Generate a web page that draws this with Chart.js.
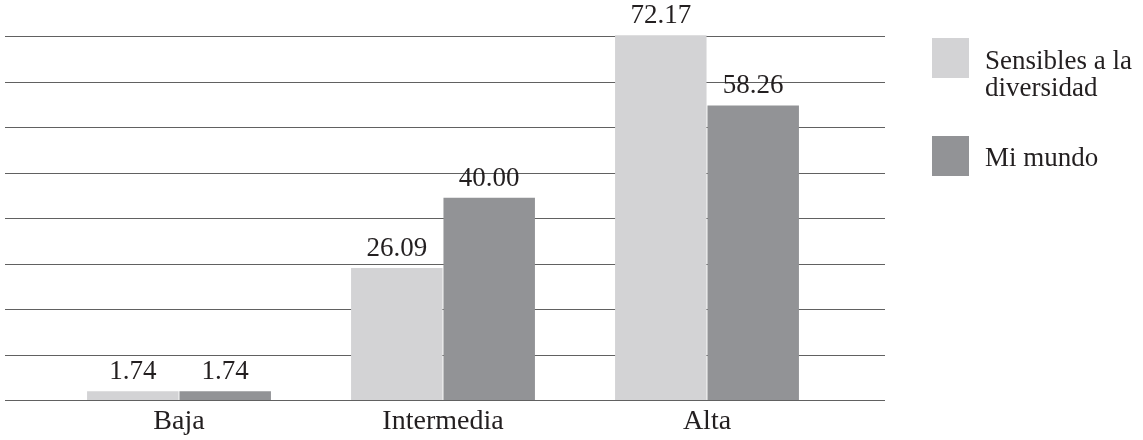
<!DOCTYPE html>
<html>
<head>
<meta charset="utf-8">
<script src="https://cdn.jsdelivr.net/npm/chart.js@4"></script>
<style>
  body { margin: 0; background: #fff; }
  #wrap { position: relative; width: 1143px; height: 440px; }
  #legend { position: absolute; left: 932px; top: 0; font-family: "Liberation Serif", serif; font-size: 27px; line-height: 27px; color: #231f20; }
  .item { position: absolute; left: 0; white-space: nowrap; }
  .box { position: absolute; left: 0; width: 37px; height: 40px; }
  .txt { position: absolute; left: 53px; }
</style>
</head>
<body>
<div id="wrap">
  <canvas id="bar_chart" width="1143" height="440"></canvas>
  <div id="legend"></div>
</div>
<script>
var categories = ["Baja", "Intermedia", "Alta"];
var sensibles = [1.74, 26.09, 72.17];
var miMundo = [1.74, 40.00, 58.26];
var seriesNames = [["Sensibles a la", "diversidad"], ["Mi mundo"]];
var gridValues = [0, 9, 18, 27, 36, 45, 54, 63, 72];

var colors = ['#d3d3d5', '#929396'];

// horizontal rules run wider than the bars
var gridPlugin = {
    id: 'gridLines',
    beforeDatasetsDraw: function (chart) {
        var ctx = chart.ctx, y = chart.scales.y;
        ctx.save();
        ctx.strokeStyle = '#616161';
        ctx.lineWidth = 1;
        gridValues.forEach(function (v) {
            var py = Math.round(y.getPixelForValue(v)) + 0.5;
            ctx.beginPath();
            ctx.moveTo(5, py);
            ctx.lineTo(885, py);
            ctx.stroke();
        });
        ctx.restore();
    }
};

var valuePlugin = {
    id: 'values',
    afterDatasetsDraw: function (chart) {
        var ctx = chart.ctx;
        ctx.save();
        ctx.font = '27px "Liberation Serif"';
        ctx.fillStyle = '#231f20';
        ctx.textAlign = 'center';
        ctx.textBaseline = 'alphabetic';
        chart.data.datasets.forEach(function (ds, i) {
            chart.getDatasetMeta(i).data.forEach(function (bar, j) {
                ctx.fillText(ds.data[j].toFixed(2), bar.x, bar.y - 12);
            });
        });
        ctx.restore();
    }
};

new Chart(document.getElementById("bar_chart").getContext("2d"), {
    type: 'bar',
    data: {
        labels: categories,
        datasets: [{
            label: seriesNames[0].join(' '),
            data: sensibles,
            backgroundColor: colors[0]
        }, {
            label: seriesNames[1].join(' '),
            data: miMundo,
            backgroundColor: colors[1]
        }]
    },
    options: {
        responsive: false,
        animation: false,
        categoryPercentage: 0.70,
        barPercentage: 0.99,
        layout: { padding: { left: 47, right: 304, top: 35, bottom: 0 } },
        plugins: { legend: { display: false }, tooltip: { enabled: false } },
        scales: {
            y: { display: false, min: 0, max: 72.2 },
            x: {
                grid: { display: false, drawTicks: false },
                border: { display: false },
                ticks: { color: '#231f20', font: { family: 'Liberation Serif', size: 28 }, padding: 5 },
                afterFit: function (s) { s.height = 40; }
            }
        }
    },
    plugins: [gridPlugin, valuePlugin]
});

// legend as real text so the first label can wrap
var legend = document.getElementById('legend');
var tops = [38, 136];
var textTops = [47, 144];
seriesNames.forEach(function (name, i) {
    var item = document.createElement('div');
    item.className = 'item';
    item.style.top = '0px';
    var box = document.createElement('div');
    box.className = 'box';
    box.style.top = tops[i] + 'px';
    box.style.background = colors[i];
    var txt = document.createElement('div');
    txt.className = 'txt';
    txt.style.top = textTops[i] + 'px';
    txt.innerHTML = name.join('<br>');
    item.appendChild(box);
    item.appendChild(txt);
    legend.appendChild(item);
});
</script>
</body>
</html>
